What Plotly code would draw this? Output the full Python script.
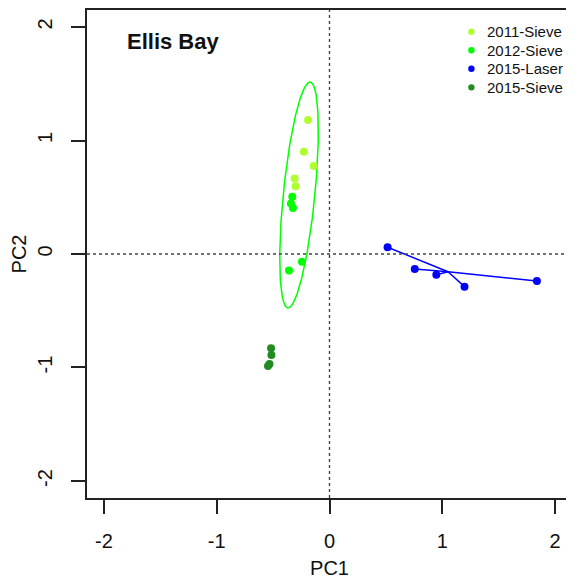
import numpy as np
import plotly.graph_objects as go

# ---- data ----
groups = ["2011-Sieve", "2012-Sieve", "2015-Laser", "2015-Sieve"]
colors = ["#ADFF2F", "#00FF00", "#0000FF", "#228B22"]

pc1_2011 = [-0.19, -0.227, -0.141, -0.309, -0.30]
pc2_2011 = [1.18, 0.90, 0.776, 0.665, 0.598]

pc1_2012 = [-0.33, -0.342, -0.324, -0.244, -0.359]
pc2_2012 = [0.504, 0.446, 0.405, -0.068, -0.145]

pc1_laser = [0.515, 0.756, 0.947, 1.197, 1.839]
pc2_laser = [0.06, -0.133, -0.183, -0.288, -0.238]

pc1_2015s = [-0.518, -0.515, -0.532, -0.545]
pc2_2015s = [-0.83, -0.89, -0.97, -0.987]

# ellipse parameters (center, semi-axes, rotation in degrees)
ell_center = (-0.27, 0.52)
ell_axes = (1.0, 0.14)
ell_angle = 84.3

tick_vals = [-2, -1, 0, 1, 2]
tick_text = ["-2", "-1", "0", "1", "2"]

FONT = "Liberation Sans, Arial, sans-serif"

# page geometry (the page has an 8px body margin)
OFF = 8
PL, PR, PT, PB = 87, 574, 9, 498  # plot box in page pixels


def px_x(p):
    return (p - PL) / (PR - PL)


def px_y(p):
    return (PB - p) / (PB - PT)


fig = go.Figure()

# ellipse
t = np.linspace(0, 2 * np.pi, 200)
th = np.deg2rad(ell_angle)
ex = ell_center[0] + ell_axes[0] * np.cos(t) * np.cos(th) - ell_axes[1] * np.sin(t) * np.sin(th)
ey = ell_center[1] + ell_axes[0] * np.cos(t) * np.sin(th) + ell_axes[1] * np.sin(t) * np.cos(th)
fig.add_trace(go.Scatter(x=ex, y=ey, mode="lines", line=dict(color="#00FF00", width=1.5),
                         showlegend=False, hoverinfo="skip"))

# spider lines for laser group
cx = float(np.mean(pc1_laser))
cy = float(np.mean(pc2_laser))
sx, sy = [], []
for xv, yv in zip(pc1_laser, pc2_laser):
    sx += [cx, xv, None]
    sy += [cy, yv, None]
fig.add_trace(go.Scatter(x=sx, y=sy, mode="lines", line=dict(color="#0000FF", width=1.5),
                         showlegend=False, hoverinfo="skip"))

data = [(pc1_2011, pc2_2011), (pc1_2012, pc2_2012), (pc1_laser, pc2_laser), (pc1_2015s, pc2_2015s)]
for (xs, ys), name, col in zip(data, groups, colors):
    fig.add_trace(go.Scatter(x=xs, y=ys, mode="markers", name=name,
                             marker=dict(color=col, size=8, line=dict(width=0)),
                             showlegend=False))

# dashed zero lines
fig.add_shape(type="line", xref="x", yref="paper", x0=0, x1=0, y0=0, y1=1,
              line=dict(color="#444444", width=1.4, dash="3px,3px"))
fig.add_shape(type="line", xref="paper", yref="y", x0=0, x1=1, y0=0, y1=0,
              line=dict(color="#444444", width=1.4, dash="3px,3px"))

# manual legend (R-style compact legend)
leg_rows = [30.7, 49.3, 67.9, 86.5]
for name, col, ry in zip(groups, colors, leg_rows):
    fig.add_shape(type="circle", xref="paper", yref="paper",
                  xsizemode="pixel", ysizemode="pixel",
                  xanchor=px_x(473), yanchor=px_y(ry),
                  x0=-3.2, x1=3.2, y0=-3.2, y1=3.2,
                  fillcolor=col, line=dict(width=0))
    fig.add_annotation(text=name, x=px_x(487), y=px_y(ry), xref="paper", yref="paper",
                       xanchor="left", yanchor="middle", showarrow=False,
                       font=dict(family=FONT, size=15, color="#111111"))

axis_common = dict(
    range=[-2.15, 2.15], showgrid=False, zeroline=False, showline=True, mirror=True,
    linecolor="#222222", linewidth=1.5, ticks="outside", ticklen=14, tickwidth=1.5,
    tickcolor="#222222", tickvals=tick_vals, ticktext=tick_text,
    tickfont=dict(family=FONT, size=20, color="#111111"),
)

fig.update_layout(
    width=583 - OFF - 0 + 0 if False else 574 - OFF, height=583 - OFF,
    margin=dict(l=PL - OFF, r=(574 - OFF) - (PR - OFF), t=PT - OFF, b=(583 - OFF) - (PB - OFF)),
    plot_bgcolor="white", paper_bgcolor="white",
    xaxis=dict(**axis_common, ticklabelstandoff=10,
               title=dict(text="PC1", font=dict(family=FONT, size=20, color="#111111"), standoff=10)),
    yaxis=dict(**axis_common, tickangle=-90, ticklabelstandoff=11,
               title=dict(text="PC2", font=dict(family=FONT, size=20, color="#111111"), standoff=3)),
    showlegend=False,
)

fig.add_annotation(text="<b>Ellis Bay</b>", x=px_x(125), y=px_y(40.7), xref="paper", yref="paper",
                   xanchor="left", yanchor="middle", showarrow=False,
                   font=dict(family=FONT, size=22, color="#111111"))

fig.write_html("out.html")
